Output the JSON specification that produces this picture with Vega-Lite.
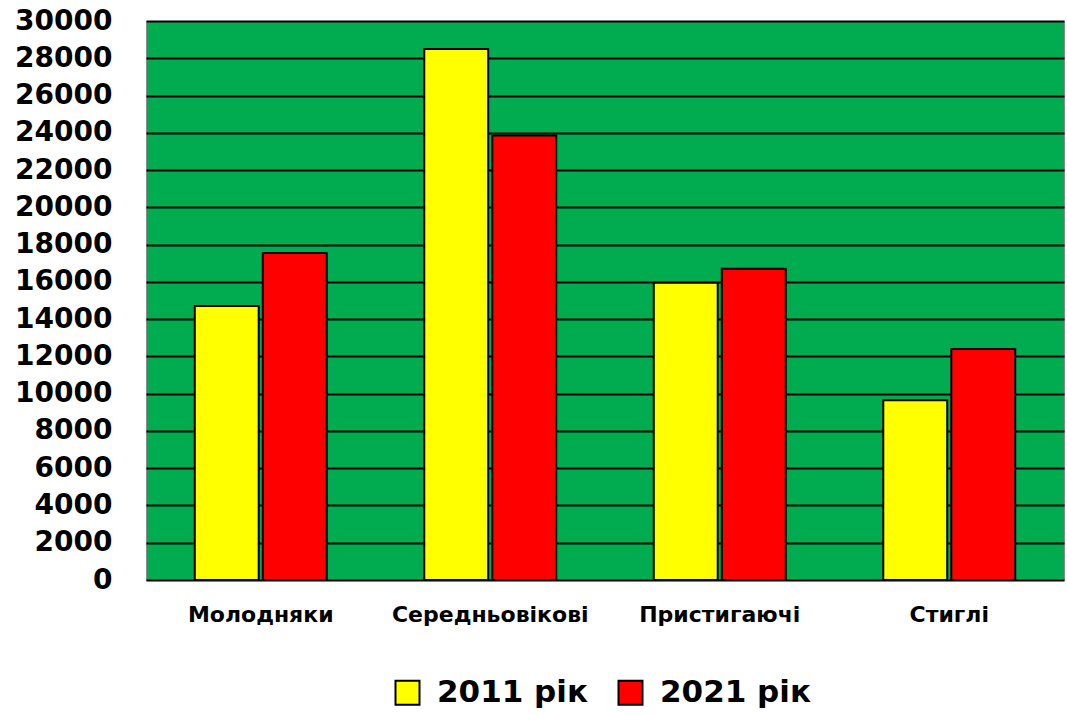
{
  "$schema": "https://vega.github.io/schema/vega-lite/v6.json",
  "width": 918,
  "height": 559,
  "autosize": {"type": "none"},
  "padding": {"left": 146, "top": 21, "right": 3, "bottom": 135},
  "background": "white",
  "config": {
    "view": {"fill": "#00AC4F", "stroke": "#8a8a8a", "strokeWidth": 1},
    "font": "DejaVu Sans"
  },
  "data": {
    "values": [
      {"group": "Молодняки", "year": "2011 рік", "value": 14700},
      {"group": "Молодняки", "year": "2021 рік", "value": 17550},
      {"group": "Середньовікові", "year": "2011 рік", "value": 28500},
      {"group": "Середньовікові", "year": "2021 рік", "value": 23850},
      {"group": "Пристигаючі", "year": "2011 рік", "value": 15950},
      {"group": "Пристигаючі", "year": "2021 рік", "value": 16700},
      {"group": "Стиглі", "year": "2011 рік", "value": 9650},
      {"group": "Стиглі", "year": "2021 рік", "value": 12400}
    ]
  },
  "mark": {"type": "bar", "stroke": "black", "strokeWidth": 2},
  "encoding": {
    "x": {
      "field": "group",
      "type": "nominal",
      "sort": ["Молодняки", "Середньовікові", "Пристигаючі", "Стиглі"],
      "scale": {"paddingInner": 0.425, "paddingOuter": 0.2125},
      "axis": {
        "title": null,
        "labelAngle": 0,
        "labelFont": "DejaVu Sans",
        "labelFontWeight": "bold",
        "labelFontSize": 22,
        "labelColor": "black",
        "labelPadding": 24,
        "labelLimit": 300,
        "ticks": false,
        "domain": false
      }
    },
    "xOffset": {
      "field": "year",
      "type": "nominal",
      "scale": {"paddingInner": 0.06}
    },
    "y": {
      "field": "value",
      "type": "quantitative",
      "scale": {"domain": [0, 30000], "nice": false},
      "axis": {
        "title": null,
        "values": [0, 2000, 4000, 6000, 8000, 10000, 12000, 14000, 16000, 18000, 20000, 22000, 24000, 26000, 28000, 30000],
        "format": "d",
        "labelFont": "DejaVu Sans",
        "labelFontWeight": "bold",
        "labelFontSize": 28,
        "labelColor": "black",
        "labelPadding": 34,
        "ticks": false,
        "domain": false,
        "grid": true,
        "gridColor": "black",
        "gridWidth": 2,
        "gridOpacity": 1
      }
    },
    "color": {
      "field": "year",
      "type": "nominal",
      "scale": {"domain": ["2011 рік", "2021 рік"], "range": ["#FFFF00", "#FF0000"]},
      "legend": {
        "title": null,
        "orient": "none",
        "direction": "horizontal",
        "legendX": 246,
        "legendY": 656,
        "symbolType": "square",
        "symbolSize": 576,
        "symbolStrokeColor": "black",
        "symbolStrokeWidth": 2,
        "symbolOpacity": 1,
        "labelFont": "DejaVu Sans",
        "labelFontWeight": "bold",
        "labelFontSize": 31,
        "labelColor": "black",
        "labelOffset": 14,
        "columnPadding": 26,
        "labelLimit": 300
      }
    }
  }
}
